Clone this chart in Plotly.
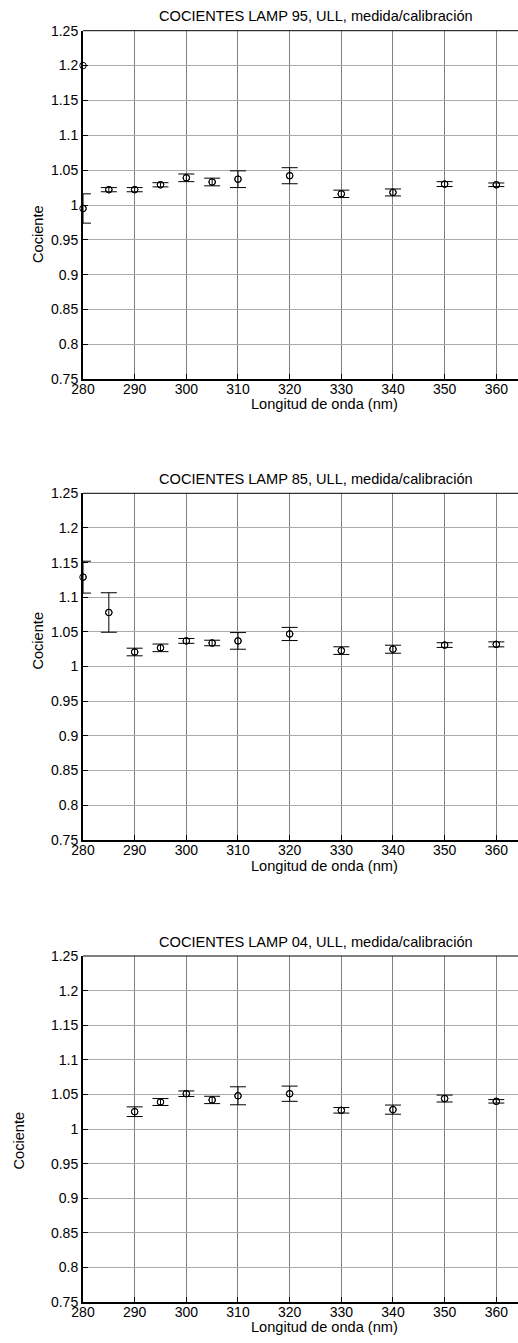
import plotly.graph_objects as go

# ---- data ----
wavelengths = [280, 285, 290, 295, 300, 305, 310, 320, 330, 340, 350, 360]

lamp95_y = [0.995, 1.022, 1.022, 1.029, 1.039, 1.033, 1.037, 1.042, 1.016, 1.018, 1.030, 1.029]
lamp95_err = [0.021, 0.003, 0.003, 0.003, 0.0055, 0.0055, 0.012, 0.0115, 0.0053, 0.005, 0.0035, 0.0026]
lamp95_extra_x = [280]
lamp95_extra_y = [1.2]

lamp85_y = [1.129, 1.078, 1.021, 1.027, 1.037, 1.034, 1.037, 1.047, 1.023, 1.025, 1.031, 1.032]
lamp85_err = [0.023, 0.0285, 0.0055, 0.0055, 0.0035, 0.004, 0.012, 0.0095, 0.0055, 0.0058, 0.0034, 0.0036]

lamp04_x = [290, 295, 300, 305, 310, 320, 330, 340, 350, 360]
lamp04_y = [1.025, 1.039, 1.051, 1.042, 1.048, 1.051, 1.027, 1.028, 1.044, 1.040]
lamp04_err = [0.007, 0.005, 0.004, 0.0053, 0.013, 0.011, 0.004, 0.0066, 0.005, 0.0025]

x_ticks = [280, 290, 300, 310, 320, 330, 340, 350, 360]
y_ticks = [0.75, 0.8, 0.85, 0.9, 0.95, 1.0, 1.05, 1.1, 1.15, 1.2, 1.25]
y_tick_labels = ["0.75", "0.8", "0.85", "0.9", "0.95", "1", "1.05", "1.1", "1.15", "1.2", "1.25"]

titles = ["COCIENTES LAMP 95, ULL, medida/calibración",
          "COCIENTES LAMP 85, ULL, medida/calibración",
          "COCIENTES LAMP 04, ULL, medida/calibración"]
x_title = "Longitud de onda (nm)"
y_title = "Cociente"

# ---- layout geometry (pixels) ----
W, H = 518, 1343
panel_px = [(30.7, 379.3), (493.3, 839.8), (956.0, 1302.0)]
title_y_px = [16, 479, 942]
xlabel_y_px = [404, 866, 1327]
ylabel_pos_px = [(38, 234), (37.6, 641), (18.5, 1141)]

FONT = "Liberation Sans, Arial, Helvetica, sans-serif"
FS_TEXT = 14.6
FS_TICK = 14

fig = go.Figure()

series = [
    (wavelengths, lamp95_y, lamp95_err),
    (wavelengths, lamp85_y, lamp85_err),
    (lamp04_x, lamp04_y, lamp04_err),
]

MARKER = dict(symbol="circle-open", size=6.5, color="black", line=dict(width=1, color="black"))

for i, (xs, ys, es) in enumerate(series):
    xa = "x" if i == 0 else f"x{i+1}"
    ya = "y" if i == 0 else f"y{i+1}"
    fig.add_trace(go.Scatter(
        x=xs, y=ys, mode="markers", xaxis=xa, yaxis=ya, marker=MARKER,
        error_y=dict(type="data", array=es, visible=True, color="black", thickness=1, width=8),
        cliponaxis=True, showlegend=False, hoverinfo="skip"))
    fig.add_trace(go.Scatter(
        x=xs, y=ys, mode="markers", xaxis=xa, yaxis=ya, marker=MARKER,
        cliponaxis=False, showlegend=False))

fig.add_trace(go.Scatter(
    x=lamp95_extra_x, y=lamp95_extra_y, mode="markers", xaxis="x", yaxis="y",
    marker=MARKER, cliponaxis=False, showlegend=False))

layout = dict(
    width=W, height=H, autosize=False,
    margin=dict(l=0, r=0, t=0, b=0, pad=0, autoexpand=False),
    paper_bgcolor="white", plot_bgcolor="white",
    font=dict(family=FONT, size=FS_TEXT, color="black"),
    showlegend=False,
)

annotations = []
shapes = []
for i in range(3):
    top, bot = panel_px[i]
    xk = "xaxis" if i == 0 else f"xaxis{i+1}"
    yk = "yaxis" if i == 0 else f"yaxis{i+1}"
    xa = "x" if i == 0 else f"x{i+1}"
    ya = "y" if i == 0 else f"y{i+1}"
    layout[xk] = dict(
        domain=[83 / W, 1.0], anchor=ya, range=[280, 364.2],
        tickvals=x_ticks, ticktext=[str(v) for v in x_ticks],
        showgrid=True, gridcolor="#808080", gridwidth=1,
        showline=True, linecolor="black", linewidth=2,
        ticks="inside", ticklen=5, tickcolor="black", tickwidth=1,
        ticklabelstandoff=-4,
        zeroline=False, fixedrange=True, automargin=False,
        tickfont=dict(family=FONT, size=FS_TICK, color="black"),
    )
    layout[yk] = dict(
        domain=[1 - bot / H, 1 - top / H], anchor=xa, range=[0.75, 1.25],
        tickvals=y_ticks, ticktext=y_tick_labels,
        showgrid=True, gridcolor="#ababab", gridwidth=1,
        showline=True, linecolor="black", linewidth=2,
        ticks="inside", ticklen=5, tickcolor="black", tickwidth=1,
        zeroline=False, fixedrange=True, automargin=False,
        tickfont=dict(family=FONT, size=FS_TICK, color="black"),
    )
    shapes.append(dict(type="line", xref=f"{xa} domain", yref=f"{ya} domain",
                       x0=0, x1=1, y0=1, y1=1, line=dict(color="black", width=1)))
    annotations.append(dict(text=titles[i], xref="paper", yref="paper",
                            x=316 / W, y=1 - title_y_px[i] / H, xanchor="center", yanchor="middle",
                            showarrow=False, font=dict(family=FONT, size=FS_TEXT, color="black")))
    annotations.append(dict(text=x_title, xref="paper", yref="paper",
                            x=324 / W, y=1 - xlabel_y_px[i] / H, xanchor="center", yanchor="middle",
                            showarrow=False, font=dict(family=FONT, size=FS_TEXT, color="black")))
    lx, ly = ylabel_pos_px[i]
    annotations.append(dict(text=y_title, xref="paper", yref="paper", textangle=-90,
                            x=lx / W, y=1 - ly / H, xanchor="center", yanchor="middle",
                            showarrow=False, font=dict(family=FONT, size=FS_TEXT, color="black")))

layout["annotations"] = annotations
layout["shapes"] = shapes
fig.update_layout(**layout)

fig.write_html(
    "out.html",
    config={"displayModeBar": False},
    post_script="document.body.style.margin='0';document.body.style.padding='0';"
                "document.body.style.overflow='hidden';",
)
